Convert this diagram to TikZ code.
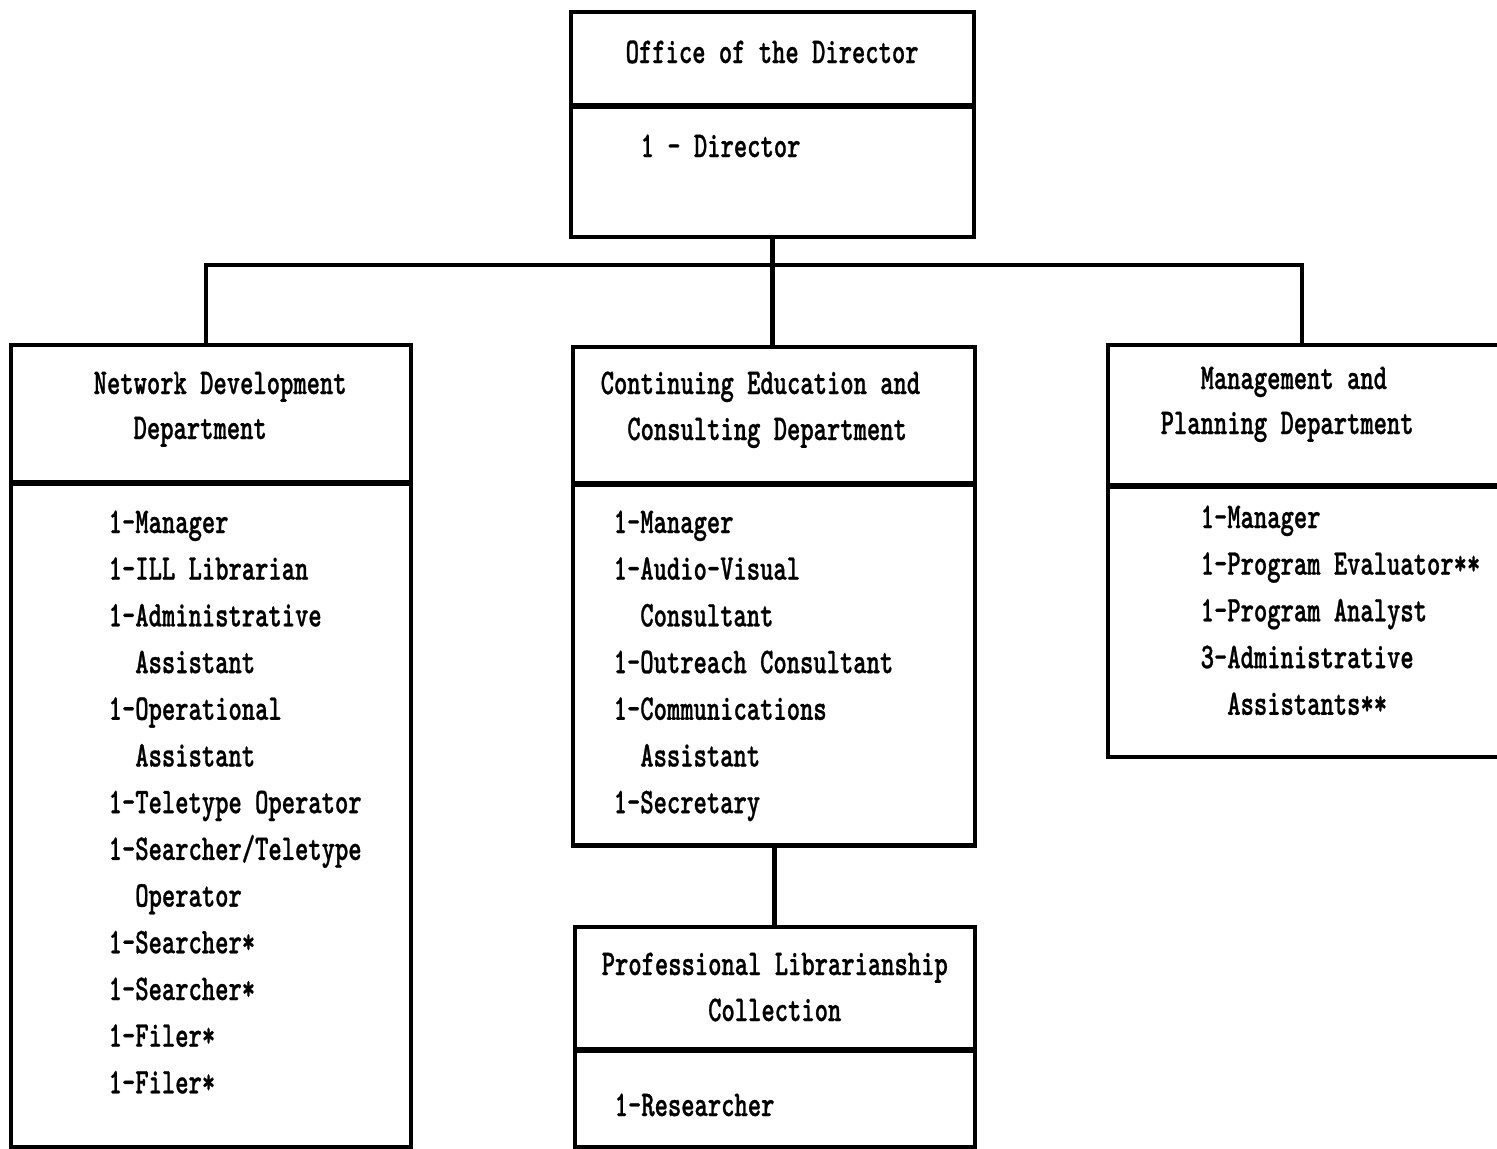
\documentclass[tikz,border=0pt]{standalone}
\usepackage{fontspec}
\newfontfamily\twf{lmmonolt10-bold.otf}[FakeStretch=0.70,FakeBold=0.8]
\newcommand\tw{\twf\fontsize{10.3}{13.3}\selectfont}
\tikzset{
  box/.style={draw, line width=1.2pt, inner sep=0pt, anchor=north west},
  divider/.style={line width=1.5pt},
  link/.style={line width=1.3pt},
  txt/.style={inner sep=0pt, anchor=base west, font=\tw},
}
\begin{document}
\begin{tikzpicture}[x=0.01cm, y=-0.01cm]
\useasboundingbox (0,0) rectangle (1497,1148);
\clip (0,0) rectangle (1497,1148);
% boxes
\node[box, minimum width=4.03cm, minimum height=2.25cm] (dir) at (569,10) {};
\node[box, minimum width=4.00cm, minimum height=8.02cm] (nd) at (9,343) {};
\node[box, minimum width=4.02cm, minimum height=4.98cm] (ce) at (571,345) {};
\node[box, minimum width=4.14cm, minimum height=4.12cm] (mp) at (1106,343) {};
\node[box, minimum width=4.00cm, minimum height=2.20cm] (plc) at (573,925) {};
% dividers
\draw[divider] (dir.west |- 0,106) -- (dir.east |- 0,106);
\draw[divider] (nd.west |- 0,483) -- (nd.east |- 0,483);
\draw[divider] (ce.west |- 0,484) -- (ce.east |- 0,484);
\draw[divider] (mp.west |- 0,486) -- (mp.east |- 0,486);
\draw[divider] (plc.west |- 0,1050) -- (plc.east |- 0,1050);
% connectors
\coordinate (busL) at (206,265);
\coordinate (busR) at (1302,265);
\draw[link] (dir.south) -- (dir.south |- ce.north);
\draw[link] (busL |- nd.north) -- (busL) -- (busR) -- (busR |- mp.north);
\draw[link] (ce.south) -- (ce.south |- plc.north);
% texts
\node[txt] (dirh) at (625,63) {Office of the Director};
\node[txt] (dirl) at (640,157) {1 - Director};
\node[txt] (ndh1) at (93,394) {Network Development};
\node[txt] (ndh2) at (93,439) {\phantom{000}Department};
\foreach [count=\i] \t in {1-Manager, 1-ILL Librarian, 1-Administrative, \phantom{1-}Assistant, 1-Operational, \phantom{1-}Assistant, 1-Teletype Operator, 1-Searcher/Teletype, \phantom{1-}Operator, 1-Searcher*, 1-Searcher*, 1-Filer*, 1-Filer*}
  \node[txt] (nd\i) at (108, {533+46.7*(\i-1)}) {\t};
\node[txt] (ceh1) at (600,394) {Continuing Education and};
\node[txt] (ceh2) at (600,440) {\phantom{00}Consulting Department};
\foreach [count=\i] \t in {1-Manager, 1-Audio-Visual, \phantom{1-}Consultant, 1-Outreach Consultant, 1-Communications, \phantom{1-}Assistant, 1-Secretary}
  \node[txt] (ce\i) at (613, {533+46.7*(\i-1)}) {\t};
\node[txt] (mph1) at (1160,389) {\phantom{000}Management and};
\node[txt] (mph2) at (1160,434) {Planning Department};
\foreach [count=\i] \t in {1-Manager, 1-Program Evaluator**, 1-Program Analyst, 3-Administrative, \phantom{3-}Assistants**}
  \node[txt] (mp\i) at (1200, {528+46.7*(\i-1)}) {\t};
\node[txt] (plch1) at (601,975) {Professional Librarianship};
\node[txt] (plch2) at (601,1021) {\phantom{00000000}Collection};
\node[txt] (plcl) at (614,1116) {1-Researcher};
\end{tikzpicture}
\end{document}
